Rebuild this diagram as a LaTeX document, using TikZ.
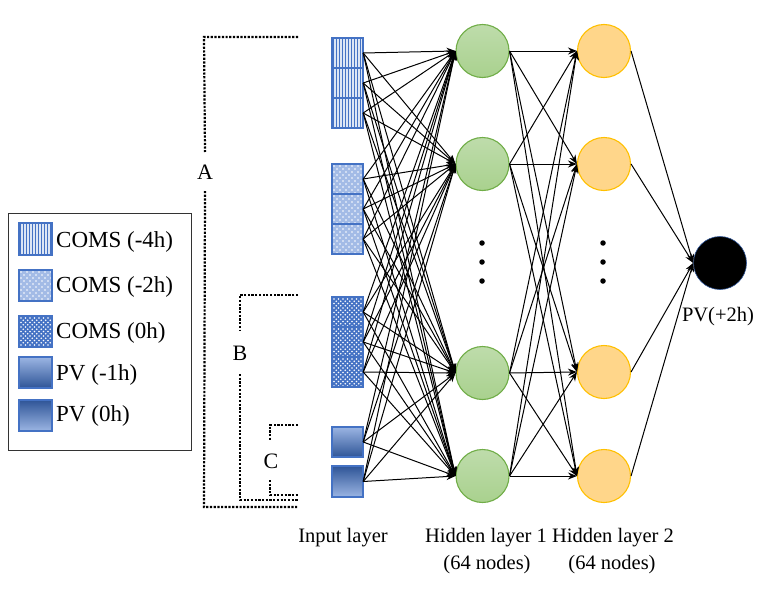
\documentclass[tikz,border=0pt]{standalone}
\usepackage{fontspec}
\setmainfont{Liberation Serif}
\usetikzlibrary{arrows.meta}
\definecolor{bln}{HTML}{4472C4}
\definecolor{bdk}{HTML}{2F5597}
\definecolor{blt}{HTML}{DCE6F5}
\definecolor{bmid}{HTML}{A3BBE6}
\definecolor{bdot}{HTML}{4472C4}
\definecolor{gfill}{HTML}{A9D18E}
\definecolor{gfilllt}{HTML}{BEDCAB}
\definecolor{gline}{HTML}{70AD47}
\definecolor{yfill}{HTML}{FFD68A}
\definecolor{yline}{HTML}{FFC000}
\definecolor{pvlt}{HTML}{9BB5E3}
\newcommand\cellstripes[4]{%
  \begin{scope}
    \clip (#1,#2) rectangle ++(#3,#4);
    \fill[blt] (#1,#2) rectangle ++(#3,#4);
    \foreach \i in {1,4,...,40}{\draw[bln,line width=1pt] ({#1+\i},#2) -- ++(0,#4);}
  \end{scope}
  \draw[cellline] (#1,#2) rectangle ++(#3,#4);}
\newcommand\celldots[6]{%
  \begin{scope}
    \clip (#1,#2) rectangle ++(#3,#4);
    \fill[#5] (#1,#2) rectangle ++(#3,#4);
    \foreach \i in {0,...,8}{\foreach \j in {0,...,8}{%
      \fill[white] ({#1+2+\i*#6},{#2+2+\j*#6}) circle (0.9);
      \fill[white] ({#1+2+(\i+0.5)*#6},{#2+2+(\j+0.5)*#6}) circle (0.9);}}
  \end{scope}
  \draw[cellline] (#1,#2) rectangle ++(#3,#4);}
\newcommand\cellgrad[6]{%
  \shade[top color=#5,bottom color=#6] (#1,#2) rectangle ++(#3,#4);
  \draw[cellline] (#1,#2) rectangle ++(#3,#4);}
\tikzset{
  cellline/.style={bln,line width=1.3pt},
  cellnode/.style={rectangle,minimum width=31pt,minimum height=30pt,inner sep=0pt},
  hone/.style={circle,draw=gline,line width=1.1pt,top color=gfilllt,bottom color=gfill,minimum size=53pt,inner sep=0pt},
  htwo/.style={circle,draw=yline,line width=1.1pt,fill=yfill,minimum size=53pt,inner sep=0pt},
  outn/.style={circle,draw=bdk,line width=0.6pt,fill=black,minimum size=53pt,inner sep=0pt},
  edge/.style={black,line width=1pt,-{Stealth[length=9pt,width=7pt]}},
  brk/.style={line width=2.2pt,dash pattern=on 2.2pt off 1.5pt},
  lbl/.style={font=\fontsize{20.5}{24}\selectfont,inner sep=0pt},
  leg/.style={font=\fontsize{23}{27}\selectfont,inner sep=0pt,anchor=west},
  dotn/.style={circle,fill=black,minimum size=5.5pt,inner sep=0pt}
}
\begin{document}
\begin{tikzpicture}[x=1pt,y=-1pt]
\useasboundingbox (0,0) rectangle (760,597);
% input cells
\cellstripes{332}{38}{31}{30}
\cellstripes{332}{68}{31}{30}
\cellstripes{332}{98}{31}{30}
\celldots{332}{164}{31}{30}{bmid}{6}
\celldots{332}{194}{31}{30}{bmid}{6}
\celldots{332}{224}{31}{30}{bmid}{6}
\celldots{332}{297}{31}{30}{bdot}{4.5}
\celldots{332}{327}{31}{30}{bdot}{4.5}
\celldots{332}{357}{31}{30}{bdot}{4.5}
\cellgrad{332}{427}{31}{30}{pvlt}{bdk}
\cellgrad{332}{466}{31}{31}{bdk}{pvlt}
\node[cellnode] (in1) at (347.5,53) {};
\node[cellnode] (in2) at (347.5,83) {};
\node[cellnode] (in3) at (347.5,113) {};
\node[cellnode] (in4) at (347.5,179) {};
\node[cellnode] (in5) at (347.5,209) {};
\node[cellnode] (in6) at (347.5,239) {};
\node[cellnode] (in7) at (347.5,312) {};
\node[cellnode] (in8) at (347.5,342) {};
\node[cellnode] (in9) at (347.5,372) {};
\node[cellnode] (in10) at (347.5,442) {};
\node[cellnode] (in11) at (347.5,481.5) {};
% hidden layers
\node[hone] (ha1) at (482.5,51) {};
\node[hone] (ha2) at (482.5,164) {};
\node[hone] (ha3) at (482.5,373) {};
\node[hone] (ha4) at (482.5,476) {};
\node[htwo] (hb1) at (604,51) {};
\node[htwo] (hb2) at (604,164) {};
\node[htwo] (hb3) at (604,372) {};
\node[htwo] (hb4) at (604,476) {};
\node[outn] (out) at (720,263) {};
\node[lbl] (outl) at (718,317) {PV(+2h)};
% dots
\foreach \y [count=\k] in {243,262,281}{
  \node[dotn] (da\k) at (482,\y) {};
  \node[dotn] (db\k) at (603,\y) {};}
% connectors
\foreach \k in {1,...,11}{\foreach \j in {1,...,4}{\draw[edge] (in\k.east) -- (ha\j.west);}}
\foreach \k in {1,...,4}{\foreach \j in {1,...,4}{\draw[edge] (ha\k.east) -- (hb\j.west);}}
\foreach \k in {1,...,4}{\draw[edge] (hb\k.east) -- (out.west);}
% layer labels
\node[lbl] (l1) at (343,538) {Input layer};
\node[lbl] (l2) at (486,538) {Hidden layer 1};
\node[lbl] (l2b) at (487,565) {(64 nodes)};
\node[lbl] (l3) at (613,538) {Hidden layer 2};
\node[lbl] (l3b) at (612,565) {(64 nodes)};
% brackets
\node[lbl,font=\fontsize{22}{26}\selectfont] (A) at (205,172) {A};
\node[lbl,font=\fontsize{22}{26}\selectfont] (B) at (240,353) {B};
\node[lbl,font=\fontsize{22}{26}\selectfont] (C) at (271,461) {C};
\draw[brk] (298,37) -- (204,37) -- (A.north |- 0,152);
\draw[brk] (A.south |- 0,191) -- (204,507) -- (298,507);
\draw[brk] (298,295) -- (240,295) -- (B.north |- 0,331);
\draw[brk] (B.south |- 0,374) -- (240,500) -- (298,500);
\draw[brk] (298,425) -- (270,425) -- (270,440);
\draw[brk] (270,480) -- (270,495) -- (298,495);
% legend
\draw[line width=1pt,black!80] (8,213) rectangle (191,450);
\cellstripes{19}{223}{33}{32}
\celldots{19}{270}{33}{31}{bmid}{6}
\celldots{19}{316}{33}{31}{bdot}{4.5}
\cellgrad{19}{357}{33}{31}{pvlt}{bdk}
\cellgrad{19}{400}{33}{31}{bdk}{pvlt}
\node[leg] (t1) at (56,242) {COMS (-4h)};
\node[leg] (t2) at (56,287) {COMS (-2h)};
\node[leg] (t3) at (56,333) {COMS (0h)};
\node[leg] (t4) at (56,375) {PV (-1h)};
\node[leg] (t5) at (56,416) {PV (0h)};
\end{tikzpicture}
\end{document}
